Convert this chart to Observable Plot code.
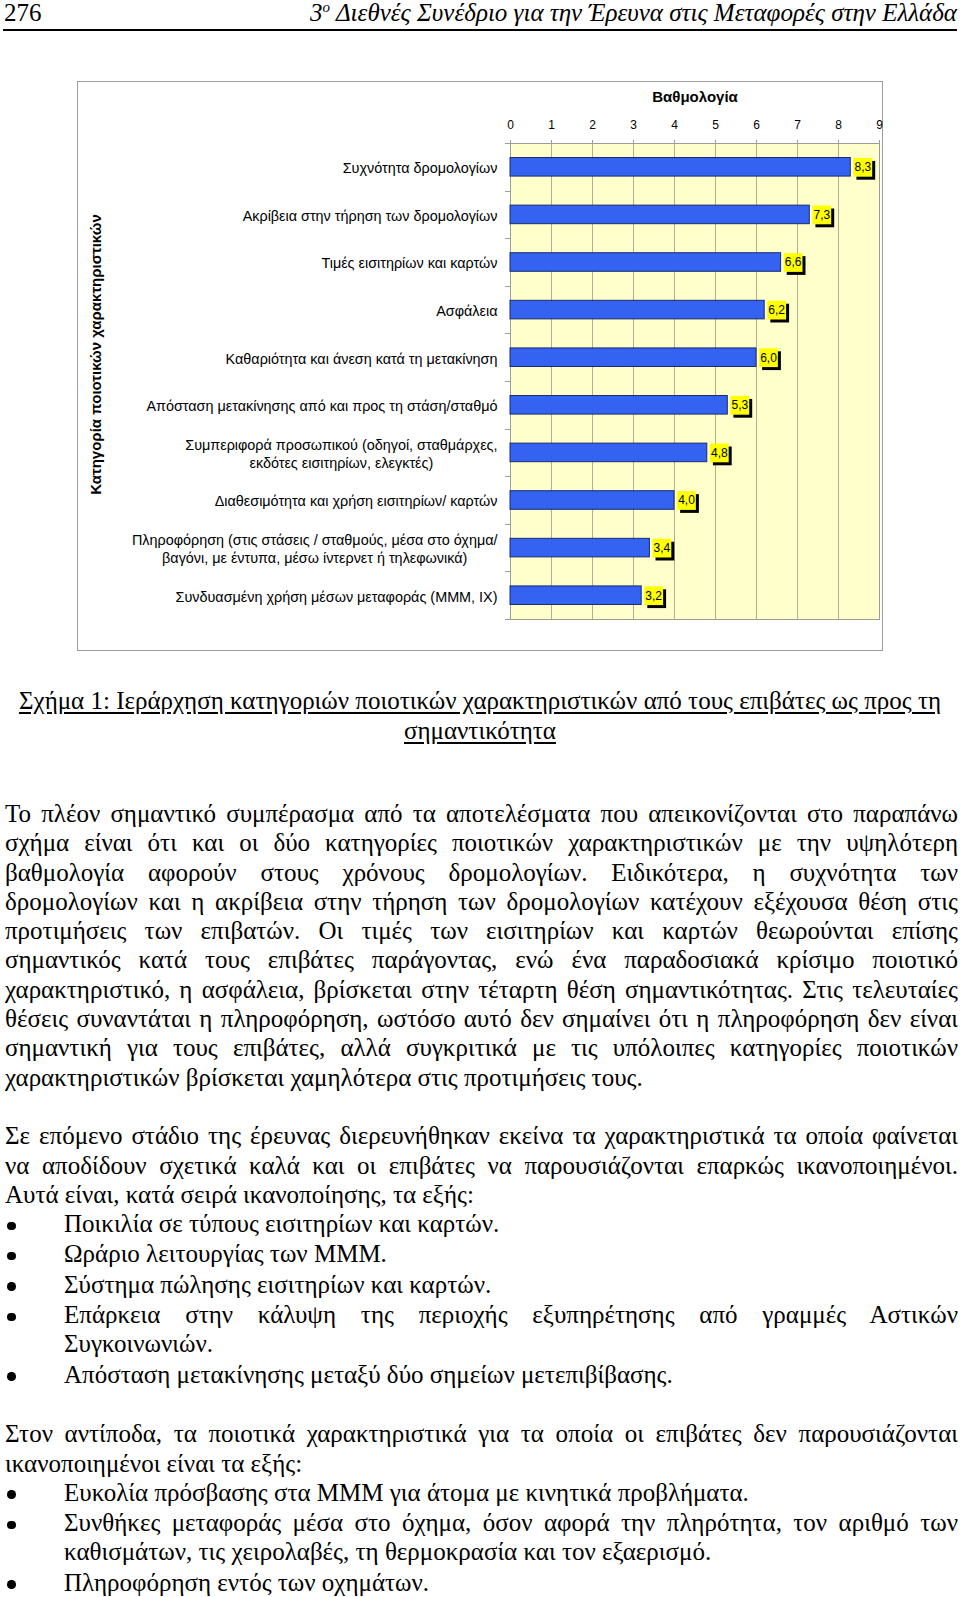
<!DOCTYPE html>
<html><head><meta charset="utf-8">
<script src="https://cdn.jsdelivr.net/npm/d3@7"></script>
<script src="https://cdn.jsdelivr.net/npm/@observablehq/plot@0.6"></script>
<style>
html,body{margin:0;padding:0;background:#fff}
body{width:960px;height:1597px;position:relative;overflow:hidden;font-family:"Liberation Serif","Times New Roman",serif;color:#000}
.hdr{position:absolute;top:0;left:3px;width:954px;height:29px;border-bottom:2px solid #000}
.pn{position:absolute;left:1px;top:0;font-size:25px;line-height:26px}
.ht{position:absolute;right:0;top:0;font-size:25px;line-height:26px;font-style:italic;white-space:nowrap}
.ht sup{font-size:15px;line-height:0}
#chartbox{position:absolute;left:77px;top:81px;width:804px;height:568px;border:1px solid #9c9c9c;background:#fff}
#chartbox svg{display:block}
.cap{position:absolute;left:0;width:960px;top:686px;text-align:center;font-size:25px;line-height:29.5px;text-decoration:underline;text-underline-offset:3px}
.flow{position:absolute;left:5px;top:799px;width:953px;font-size:25px;line-height:29.3px}
.flow .j{display:block;white-space:nowrap;text-align:justify;text-align-last:justify}
.flow .l{display:block;white-space:nowrap;text-align:left}
.flow .blank{display:block;height:29.3px}
.flow .li{position:relative;padding-left:59px;margin-bottom:1px}
.flow .li::before{content:"";position:absolute;left:2px;top:12.5px;width:8.5px;height:8.5px;border-radius:50%;background:#000}
</style>
</head>
<body>
<div class="hdr"><span class="pn">276</span><span class="ht">3<sup>ο</sup> Διεθνές Συνέδριο για την Έρευνα στις Μεταφορές στην Ελλάδα</span></div>
<div id="chartbox"></div>
<div class="cap">Σχήμα 1: Ιεράρχηση κατηγοριών ποιοτικών χαρακτηριστικών από τους επιβάτες ως προς τη<br>σημαντικότητα</div>
<div class="flow">
<span class="j">Το πλέον σημαντικό συμπέρασμα από τα αποτελέσματα που απεικονίζονται στο παραπάνω</span>
<span class="j">σχήμα είναι ότι και οι δύο κατηγορίες ποιοτικών χαρακτηριστικών με την υψηλότερη</span>
<span class="j">βαθμολογία αφορούν στους χρόνους δρομολογίων. Ειδικότερα, η συχνότητα των</span>
<span class="j">δρομολογίων και η ακρίβεια στην τήρηση των δρομολογίων κατέχουν εξέχουσα θέση στις</span>
<span class="j">προτιμήσεις των επιβατών. Οι τιμές των εισιτηρίων και καρτών θεωρούνται επίσης</span>
<span class="j">σημαντικός κατά τους επιβάτες παράγοντας, ενώ ένα παραδοσιακά κρίσιμο ποιοτικό</span>
<span class="j">χαρακτηριστικό, η ασφάλεια, βρίσκεται στην τέταρτη θέση σημαντικότητας.  Στις τελευταίες</span>
<span class="j">θέσεις συναντάται η πληροφόρηση, ωστόσο αυτό δεν σημαίνει ότι η πληροφόρηση δεν είναι</span>
<span class="j">σημαντική για τους επιβάτες, αλλά συγκριτικά με τις υπόλοιπες κατηγορίες ποιοτικών</span>
<span class="l">χαρακτηριστικών βρίσκεται χαμηλότερα στις προτιμήσεις τους.</span>
<span class="blank"></span>
<span class="j">Σε επόμενο στάδιο της έρευνας διερευνήθηκαν εκείνα τα χαρακτηριστικά τα οποία φαίνεται</span>
<span class="j">να αποδίδουν σχετικά καλά και οι επιβάτες να παρουσιάζονται επαρκώς ικανοποιημένοι.</span>
<span class="l">Αυτά είναι, κατά σειρά ικανοποίησης, τα εξής:</span>
<div class="li"><span class="l">Ποικιλία σε τύπους εισιτηρίων και καρτών.</span></div>
<div class="li"><span class="l">Ωράριο λειτουργίας των ΜΜΜ.</span></div>
<div class="li"><span class="l">Σύστημα πώλησης εισιτηρίων και καρτών.</span></div>
<div class="li"><span class="j">Επάρκεια στην κάλυψη της περιοχής εξυπηρέτησης από γραμμές Αστικών</span><span class="l">Συγκοινωνιών.</span></div>
<div class="li"><span class="l">Απόσταση μετακίνησης μεταξύ δύο σημείων μετεπιβίβασης.</span></div>
<span class="blank"></span>
<span class="j">Στον αντίποδα, τα ποιοτικά χαρακτηριστικά για τα οποία οι επιβάτες δεν παρουσιάζονται</span>
<span class="l">ικανοποιημένοι είναι τα εξής:</span>
<div class="li"><span class="l">Ευκολία πρόσβασης στα ΜΜΜ για άτομα με κινητικά προβλήματα.</span></div>
<div class="li"><span class="j">Συνθήκες μεταφοράς μέσα στο όχημα, όσον αφορά την πληρότητα, τον αριθμό των</span><span class="l">καθισμάτων, τις χειρολαβές, τη θερμοκρασία και τον εξαερισμό.</span></div>
<div class="li"><span class="l">Πληροφόρηση εντός των οχημάτων.</span></div>
</div>
<script>
const categories = [
  "Συχνότητα δρομολογίων",
  "Ακρίβεια στην τήρηση των δρομολογίων",
  "Τιμές εισιτηρίων και καρτών",
  "Ασφάλεια",
  "Καθαριότητα και άνεση κατά τη μετακίνηση",
  "Απόσταση μετακίνησης από και προς τη στάση/σταθμό",
  "Συμπεριφορά προσωπικού (οδηγοί, σταθμάρχες,\nεκδότες εισιτηρίων, ελεγκτές)",
  "Διαθεσιμότητα και χρήση εισιτηρίων/ καρτών",
  "Πληροφόρηση (στις στάσεις / σταθμούς, μέσα στο όχημα/\nβαγόνι, με έντυπα, μέσω ίντερνετ ή τηλεφωνικά)",
  "Συνδυασμένη χρήση μέσων μεταφοράς (ΜΜΜ, ΙΧ)"
];
const scores = [8.3, 7.3, 6.6, 6.2, 6.0, 5.3, 4.8, 4.0, 3.4, 3.2];
const xTicks = [0, 1, 2, 3, 4, 5, 6, 7, 8, 9];
const xTitle = "Βαθμολογία";
const yTitle = "Κατηγορία ποιοτικών χαρακτηριστικών";

const fmt = d3.format(".1f");
const data = categories.map((c, i) => ({category: c, score: scores[i], label: fmt(scores[i]).replace(".", ",")}));

const boundaryTicks = (index, scales, values, dimensions) => {
  const y = scales.y;
  const bw = y.bandwidth();
  const step = y.step ? y.step() : bw / 0.39;
  const off = (step - bw) / 2;
  const pos = categories.map(c => y(c) - off);
  pos.push(y(categories[categories.length - 1]) + bw + off);
  const g = d3.create("svg:g").attr("stroke", "#9c9c9c").attr("stroke-width", 1);
  g.selectAll("line").data(pos).join("line")
    .attr("x1", dimensions.marginLeft - 5).attr("x2", dimensions.marginLeft)
    .attr("y1", d => Math.round(d) + 0.5).attr("y2", d => Math.round(d) + 0.5);
  return g.node();
};

const chart = Plot.plot({
  width: 804,
  height: 568,
  marginLeft: 432,
  marginRight: 3,
  marginTop: 61,
  marginBottom: 31,
  style: {fontFamily: "'Liberation Sans', Arial, sans-serif", fontSize: "13px", background: "transparent", color: "#000", overflow: "visible"},
  x: {domain: [0, 9]},
  y: {domain: categories, paddingInner: 0.61, paddingOuter: 0.305, round: false},
  marks: [
    Plot.frame({fill: "#FFFFCC", stroke: null}),
    Plot.gridX(xTicks, {stroke: "#b0b090", strokeOpacity: 1}),
    Plot.frame({stroke: "#9c9c9c"}),
    Plot.axisX({anchor: "top", ticks: xTicks, tickSize: 4, tickPadding: 11, fontSize: 12, stroke: "#9c9c9c", label: null}),
    Plot.axisX({anchor: "top", ticks: [], tickSize: 0, label: xTitle, labelAnchor: "center", labelOffset: 52, labelArrow: "none", fontSize: 15, fontWeight: "bold"}),
    Plot.axisY({anchor: "left", tickSize: 0, tickPadding: 13, fontSize: 14.4, lineHeight: 1.27, label: null}),
    Plot.text([yTitle], {text: d => d, frameAnchor: "left", textAnchor: "middle", lineAnchor: "middle", rotate: -90, dx: -414, dy: -27, fontSize: 15, fontWeight: "bold", fill: "#000"}),
    boundaryTicks,
    Plot.barX(data, {y: "category", x: "score", fill: "#3463F2", stroke: "#1b2a6e", strokeWidth: 1}),
    Plot.dot(data, {x: "score", y: "category", symbol: "square", r: 10.6, fill: "#000", stroke: null, dx: 15, dy: 3}),
    Plot.dot(data, {x: "score", y: "category", symbol: "square", r: 10.6, fill: "#FFFF00", stroke: null, dx: 12}),
    Plot.text(data, {x: "score", y: "category", text: "label", dx: 12, fontSize: 12, fill: "#000"})
  ]
});
document.getElementById("chartbox").appendChild(chart);

// center multi-line category labels like the original
chart.querySelectorAll('g[aria-label="y-axis tick label"] text').forEach(t => {
  const spans = t.querySelectorAll("tspan");
  if (spans.length > 1) {
    let w = 0;
    spans.forEach(s => { w = Math.max(w, s.getComputedTextLength()); });
    t.setAttribute("text-anchor", "middle");
    spans.forEach(s => s.setAttribute("x", -w / 2));
  }
});
</script>
</body></html>
